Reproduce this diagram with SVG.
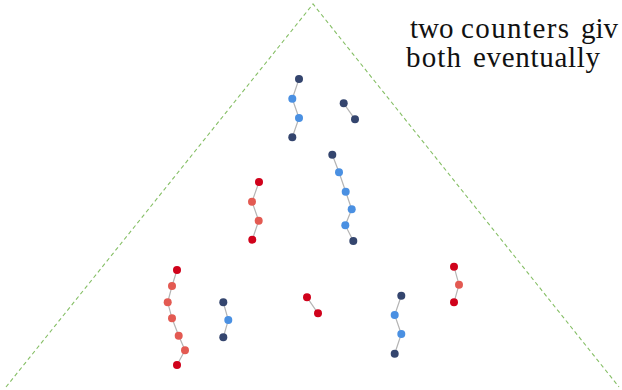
<svg xmlns="http://www.w3.org/2000/svg" width="622" height="390" viewBox="0 0 622 390">
<style>
.e{stroke:#b4b4b4;stroke-width:1.2;fill:none}
.bd{fill:#34456e}
.bl{fill:#4a90e2}
.rd{fill:#d0021b}
.rl{fill:#e35a52}
.tri{fill:none;stroke:#86bf66;stroke-width:1.1;stroke-dasharray:4 3}
.t{font-size:29px;fill:#111}
</style>
<rect width="622" height="390" fill="#fff"/>
<polyline class="tri" points="6,387 313,4 619,387"/>
<g id="connectors">
<polyline class="e" points="299,79 292.3,98.7 299,118 292.3,137.3"/>
<polyline class="e" points="343.7,103.3 355,119.3"/>
<polyline class="e" points="332.3,154.7 339,172.3 345.7,191.7 351.7,209.3 345.3,225.3 353.3,241"/>
<polyline class="e" points="259,182 252,201.7 258.7,220.7 252.3,239.7"/>
<polyline class="e" points="177,270 172,286 167.7,302.3 172,318.3 178.7,335.7 185,350.3 177,365"/>
<polyline class="e" points="223.3,302.3 228.3,320 223.3,337.3"/>
<polyline class="e" points="307,297.3 318,313.3"/>
<polyline class="e" points="401.3,295.7 394.7,315 401.3,334 394.7,353.7"/>
<polyline class="e" points="454,266.7 459,284.7 454,302.3"/>
</g>
<g id="n1a"><circle class="bd" cx="299" cy="79" r="4"/></g>
<g id="n1b"><circle class="bl" cx="292.3" cy="98.7" r="4"/></g>
<g id="n1c"><circle class="bl" cx="299" cy="118" r="4"/></g>
<g id="n1d"><circle class="bd" cx="292.3" cy="137.3" r="4"/></g>
<g id="n2a"><circle class="bd" cx="343.7" cy="103.3" r="4"/></g>
<g id="n2b"><circle class="bd" cx="355" cy="119.3" r="4"/></g>
<g id="n3a"><circle class="bd" cx="332.3" cy="154.7" r="4"/></g>
<g id="n3b"><circle class="bl" cx="339" cy="172.3" r="4"/></g>
<g id="n3c"><circle class="bl" cx="345.7" cy="191.7" r="4"/></g>
<g id="n3d"><circle class="bl" cx="351.7" cy="209.3" r="4"/></g>
<g id="n3e"><circle class="bl" cx="345.3" cy="225.3" r="4"/></g>
<g id="n3f"><circle class="bd" cx="353.3" cy="241" r="4"/></g>
<g id="n4a"><circle class="rd" cx="259" cy="182" r="4"/></g>
<g id="n4b"><circle class="rl" cx="252" cy="201.7" r="4"/></g>
<g id="n4c"><circle class="rl" cx="258.7" cy="220.7" r="4"/></g>
<g id="n4d"><circle class="rd" cx="252.3" cy="239.7" r="4"/></g>
<g id="n5a"><circle class="rd" cx="177" cy="270" r="4"/></g>
<g id="n5b"><circle class="rl" cx="172" cy="286" r="4"/></g>
<g id="n5c"><circle class="rl" cx="167.7" cy="302.3" r="4"/></g>
<g id="n5d"><circle class="rl" cx="172" cy="318.3" r="4"/></g>
<g id="n5e"><circle class="rl" cx="178.7" cy="335.7" r="4"/></g>
<g id="n5f"><circle class="rl" cx="185" cy="350.3" r="4"/></g>
<g id="n5g"><circle class="rd" cx="177" cy="365" r="4"/></g>
<g id="n6a"><circle class="bd" cx="223.3" cy="302.3" r="4"/></g>
<g id="n6b"><circle class="bl" cx="228.3" cy="320" r="4"/></g>
<g id="n6c"><circle class="bd" cx="223.3" cy="337.3" r="4"/></g>
<g id="n7a"><circle class="rd" cx="307" cy="297.3" r="4"/></g>
<g id="n7b"><circle class="rd" cx="318" cy="313.3" r="4"/></g>
<g id="n8a"><circle class="bd" cx="401.3" cy="295.7" r="4"/></g>
<g id="n8b"><circle class="bl" cx="394.7" cy="315" r="4"/></g>
<g id="n8c"><circle class="bl" cx="401.3" cy="334" r="4"/></g>
<g id="n8d"><circle class="bd" cx="394.7" cy="353.7" r="4"/></g>
<g id="n9a"><circle class="rd" cx="454" cy="266.7" r="4"/></g>
<g id="n9b"><circle class="rl" cx="459" cy="284.7" r="4"/></g>
<g id="n9c"><circle class="rd" cx="454" cy="302.3" r="4"/></g>
<g id="caption" font-family="'Liberation Serif', 'Times New Roman', serif">
<text class="t" y="38"><tspan x="410">two</tspan><tspan x="461" textLength="108" lengthAdjust="spacing">counters</tspan><tspan x="581">giv</tspan></text>
<text class="t" y="67"><tspan x="406" textLength="55" lengthAdjust="spacing">both</tspan><tspan x="473" textLength="127" lengthAdjust="spacing">eventually</tspan></text>
</g>
</svg>
